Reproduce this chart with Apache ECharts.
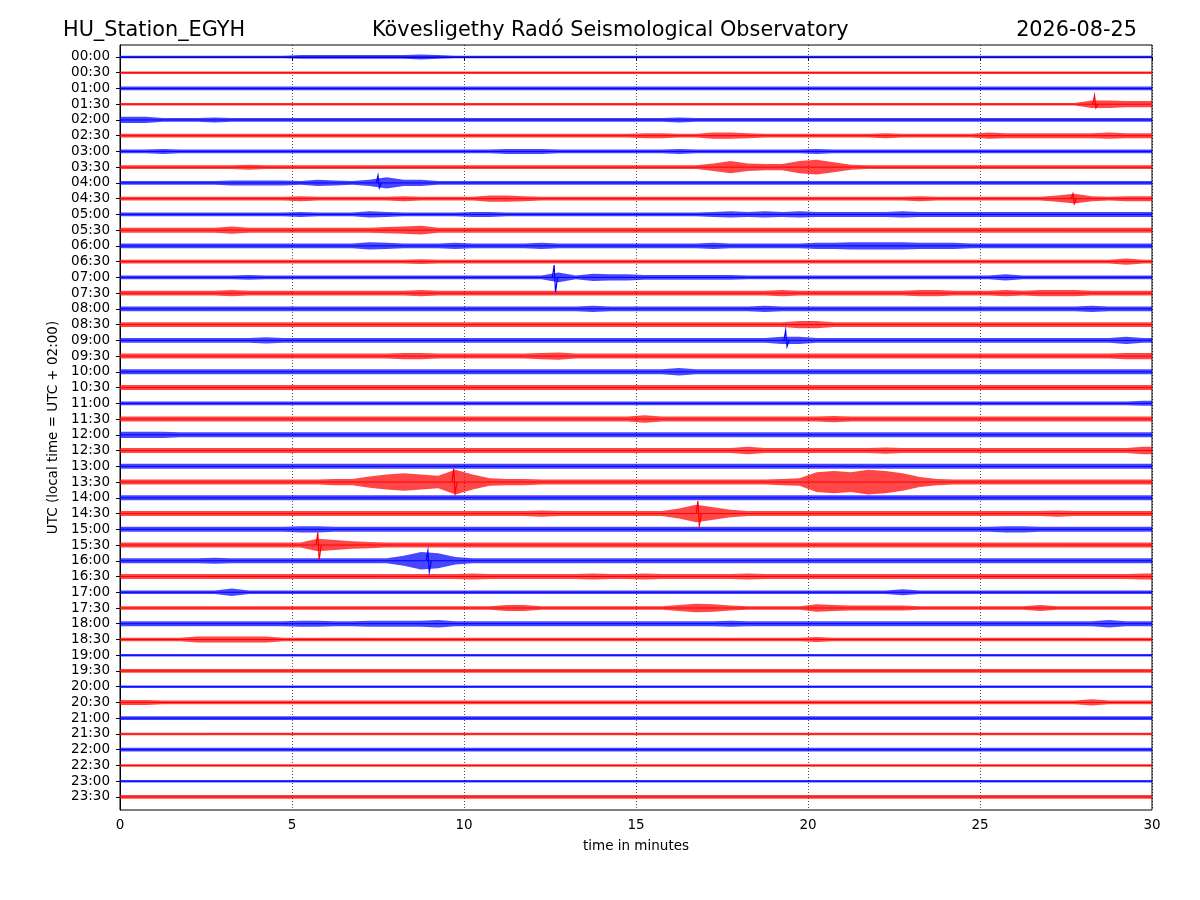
<!DOCTYPE html>
<html>
<head>
<meta charset="utf-8">
<script src="https://cdn.jsdelivr.net/npm/echarts/dist/echarts.min.js"></script>
<style>html,body{margin:0;padding:0;background:#fff}#c{width:1200px;height:900px}</style>
</head>
<body>
<div id="c"></div>
<script>
const stationName = 'HU_Station_EGYH';
const observatory = 'Kövesligethy Radó Seismological Observatory';
const dayLabel = '2026-08-25';
const xAxisTitle = 'time in minutes';
const yAxisTitle = 'UTC (local time = UTC + 02:00)';

const timeLabels = ['00:00','00:30','01:00','01:30','02:00','02:30','03:00','03:30',
  '04:00','04:30','05:00','05:30','06:00','06:30','07:00','07:30',
  '08:00','08:30','09:00','09:30','10:00','10:30','11:00','11:30',
  '12:00','12:30','13:00','13:30','14:00','14:30','15:00','15:30',
  '16:00','16:30','17:00','17:30','18:00','18:30','19:00','19:30',
  '20:00','20:30','21:00','21:30','22:00','22:30','23:00','23:30'];

// Envelope (half-amplitude) of each 30-minute trace, one base-36 digit per 0.5 minute.
const envelopes = [
  '2222222222 3333333432 2222222222 2222222222 2222222222 2222222222',
  '2222222222 2222222222 2222222222 2222222222 2222222222 2222222222',
  '3333333333 3333333333 3333333333 3333333333 3333333333 3333333333',
  '2222222222 2222222222 2222222222 2222222222 2222222222 2222226655',
  '5533343333 3333333333 3333333333 3343333333 3333333333 3333333333',
  '3333333333 3333333333 3333333333 4433554333 3333433333 5444444544',
  '3343333333 3333333333 3344433333 3343333333 4333333333 3333333333',
  '3333333433 3333333333 3333333333 33336a655a c843333333 3333333333',
  '3333334444 3543595533 3333333333 3333333333 3333333333 3333333333',
  '3333333333 4333334333 3554333333 3333333333 3333334333 3333584344',
  '3333333333 4333543333 4433333333 3333454545 4444454444 4444444444',
  '4444446444 4444456744 4444444444 4444444444 4444444444 4444444444',
  '4444444444 4444654445 4444544444 4444544444 5566665554 4444444444',
  '3333333333 3333333433 3333333333 3333333333 3333333333 3333333353',
  '3333333433 3333333333 3333383655 4444443333 3333333333 3533333333',
  '4444445444 4444444544 4444444444 4444444454 4444445544 4545554444',
  '4444444444 4444444444 4444444544 4444444544 4444444444 4444445444',
  '4444444444 4444444444 4444444444 4444444446 6444444444 4444444444',
  '4444444454 4444444444 4444444444 4444444466 4444444444 4444444464',
  '4444444444 4444445544 4444564444 4444444444 4444444444 4444444455',
  '4444444444 4444444444 4444444444 4464444444 4444444444 4444444444',
  '4444444444 4444444444 4444444444 4444444444 4444444444 4444444444',
  '3333333333 3333333333 3333333333 3333333333 3333333333 3333333334',
  '4444444444 4444444444 4444444444 6444444444 4544444444 4444444444',
  '5554444444 4444444444 4444444444 4444444444 4444444444 4444444444',
  '4444444444 4444444444 4444444444 4444446444 4444544444 4444444446',
  '4444444444 4444444444 4444444444 4444444444 4444444444 4444444444',
  '4444444444 44559cecak c655444444 4444444456 gigkie8544 4444444444',
  '4444444444 4444444444 4444444444 4444444444 4444444444 4444444444',
  '4444444444 4444444444 4444544444 448ea64444 4444444444 4444544444',
  '4444444444 5544444444 4444444444 4444444444 4444444444 4554444444',
  '4444444444 4a86544444 4444444444 4444444444 4444444444 4444444444',
  '4444454444 4444448ec6 4444444444 4444444444 4444444444 4444444444',
  '4444444444 4444444444 5444444544 5444445444 4444444444 4444444445',
  '3333336333 3333333333 3333333333 3333333333 3333353333 3333333333',
  '3333333333 3333333333 3355333333 3357643333 6544443333 3335333333',
  '4444444444 5544555564 4444444444 4444454444 4444444444 4444444644',
  '3333555553 3333333333 3333333333 3333333333 4333333333 3333333333',
  '2222222222 2222222222 2222222222 2222222222 2222222222 2222222222',
  '3333333333 3333333333 3333333333 3333333333 3333333333 3333333333',
  '2222222222 2222222222 2222222222 2222222222 2222222222 2222222222',
  '4433333333 3333333333 3333333333 3333333333 3333333333 3333335333',
  '3333333333 3333333333 3333333333 3333333333 3333333333 3333333333',
  '2222222222 2222222222 2222222222 2222222222 2222222222 2222222222',
  '3333333333 3333333333 3333333333 3333333333 3333333333 3333333333',
  '2222222222 2222222222 2222222222 2222222222 2222222222 2222222222',
  '2222222222 2222222222 2222222222 2222222222 2222222222 2222222222',
  '3333333333 3333333333 3333333333 3333333333 3333333333 3333333333'
];

// Sharp arrivals: [trace index, minute, upward code, downward code]
const spikes = [
  [3, 28.33, 14, 6],
  [8, 7.5, 12, 8],
  [9, 27.7, 8, 8],
  [14, 12.62, 20, 24],
  [18, 19.35, 16, 10],
  [27, 9.7, 22, 18],
  [29, 16.8, 20, 20],
  [31, 5.75, 20, 24],
  [32, 8.95, 16, 18]
];

const BIN_MINUTES = 0.5;
const AMP_PER_CODE = 0.62 / 15.74;
const COLORS = ['#0000ff', '#ff0000'];

const envCodes = envelopes.map(s => s.replace(/\s/g, '').split('').map(c => parseInt(c, 36)));

const chart = echarts.init(document.getElementById('c'), null, {renderer: 'canvas'});
const FONT = 'DejaVu Sans';
const titleStyle = {fontFamily: FONT, fontSize: 20.8, fontWeight: 'normal', color: '#000'};

chart.setOption({
  backgroundColor: '#ffffff',
  animation: false,
  title: [
    {text: stationName, left: 58, top: 15, textStyle: titleStyle},
    {text: observatory, left: 367, top: 15, textStyle: titleStyle},
    {text: dayLabel, right: 58, top: 15, textStyle: titleStyle}
  ],
  grid: {left: 120, right: 48, top: 45, bottom: 90, show: true, borderColor: '#000', borderWidth: 1, backgroundColor: '#fff'},
  xAxis: {
    type: 'value', min: 0, max: 30, interval: 5,
    name: xAxisTitle, nameLocation: 'middle', nameGap: 29,
    nameTextStyle: {fontFamily: FONT, fontSize: 13.5, color: '#000'},
    axisLine: {show: true, lineStyle: {color: '#000', width: 1}},
    axisTick: {show: true, length: 4, lineStyle: {color: '#000'}},
    axisLabel: {fontFamily: FONT, fontSize: 13.5, color: '#000', margin: 8},
    splitLine: {show: true, lineStyle: {color: '#000', type: [1, 2], width: 0.7}}
  },
  yAxis: {
    type: 'value', inverse: true, min: -0.76, max: 47.83,
    name: yAxisTitle, nameLocation: 'middle', nameGap: 56,
    nameTextStyle: {fontFamily: FONT, fontSize: 13.5, color: '#000'},
    axisLine: {show: true, lineStyle: {color: '#000', width: 1}},
    axisTick: {show: true, length: 4, lineStyle: {color: '#000'}, customValues: timeLabels.map((_, i) => i)},
    axisLabel: {fontFamily: FONT, fontSize: 13.5, color: '#000', margin: 10, padding: [3, 0, 0, 0],
      customValues: timeLabels.map((_, i) => i),
      formatter: v => timeLabels[Math.round(v)] || ''},
    splitLine: {show: false}
  },
  series: [
    {
      type: 'custom',
      clip: true,
      data: timeLabels.map((_, i) => [0, i]),
      renderItem: (params, api) => {
        const i = api.value(1);
        const codes = envCodes[i];
        const pts = [[0, codes[0]]];
        codes.forEach((c, k) => pts.push([(k + 0.5) * BIN_MINUTES, c]));
        pts.push([30, codes[codes.length - 1]]);
        const upper = pts.map(p => api.coord([p[0], i - p[1] * AMP_PER_CODE]));
        const lower = pts.slice().reverse().map(p => api.coord([p[0], i + p[1] * AMP_PER_CODE]));
        const a = api.coord([0, i]), b = api.coord([30, i]);
        const color = COLORS[i % 2];
        return {type: 'group', children: [
          {type: 'polygon', shape: {points: upper.concat(lower)}, style: {fill: color, opacity: 0.72}},
          {type: 'line', shape: {x1: a[0], y1: a[1], x2: b[0], y2: b[1]}, style: {stroke: color, lineWidth: 1}}
        ]};
      }
    },
    {
      type: 'custom',
      clip: true,
      data: spikes,
      renderItem: (params, api) => {
        const i = api.value(0), t = api.value(1);
        const up = api.coord([t, i - api.value(2) * AMP_PER_CODE]);
        const dn = api.coord([t + 0.04, i + api.value(3) * AMP_PER_CODE]);
        const s = api.coord([t - 0.05, i]);
        const e = api.coord([t + 0.1, i]);
        return {type: 'polyline', shape: {points: [s, up, dn, e]}, style: {stroke: COLORS[i % 2], lineWidth: 1.2, fill: null}};
      }
    }
  ]
});
</script>
</body>
</html>
